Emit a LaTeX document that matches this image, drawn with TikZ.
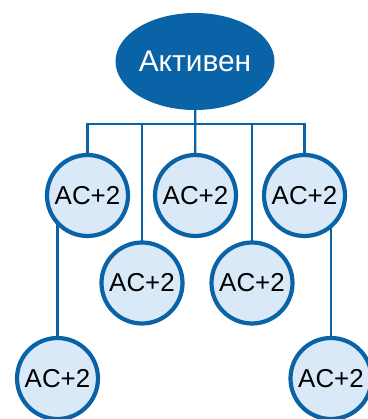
\documentclass[tikz,border=0pt]{standalone}
\usepackage{fontspec}
\setmainfont{Liberation Sans}
\usepackage{tikz}
\usetikzlibrary{positioning,shapes.geometric,backgrounds}
\definecolor{darkblue}{HTML}{0A63A6}
\definecolor{paleblue}{HTML}{DAE9F7}

\begin{document}
\begin{tikzpicture}[line join=bevel,
  top/.style={ellipse,fill=darkblue,draw=none,text=white,inner sep=0pt,minimum width=130bp,minimum height=97bp,font=\fontsize{30}{36}\selectfont},
  level/.style={circle,fill=paleblue,draw=darkblue,line width=4.2bp,inner sep=0pt,minimum size=81bp,font=\fontsize{26}{31}\selectfont},
  link/.style={darkblue,line width=2.2bp}]
%%
\useasboundingbox (0bp,0bp) rectangle (368bp,419bp);
\node (node_0) at (195.0bp,357.5bp) [top] {Активен};
  \node (node_1) at (87.5bp,223.5bp) [level] {AC+2};
  \node (node_2) at (195.5bp,223.5bp) [level] {AC+2};
  \node (node_3) at (304.5bp,223.5bp) [level] {AC+2};
  \node (node_4) at (142.0bp,136.0bp) [level] {AC+2};
  \node (node_5) at (252.0bp,136.0bp) [level] {AC+2};
  \node (node_6) at (57.5bp,40.5bp) [level] {AC+2};
  \node (node_7) at (331.0bp,40.5bp) [level] {AC+2};
  \coordinate (bus_l) at (87.5bp,295.0bp);
  \coordinate (bus_r) at (304.5bp,295.0bp);
%
\begin{scope}[on background layer]
  \draw [link] (node_1.center) -- (bus_l) -- (bus_r) -- (node_3.center);
  \draw [link] (node_0.center) -- (node_2.center);
  \draw [link] (node_4.center) -- (node_4.center |- bus_l);
  \draw [link] (node_5.center) -- (node_5.center |- bus_l);
  \draw [link] (node_6.center) -- (node_6.center |- node_1.center);
  \draw [link] (node_7.center) -- (node_7.center |- node_3.center);
\end{scope}
%
\end{tikzpicture}
\end{document}
